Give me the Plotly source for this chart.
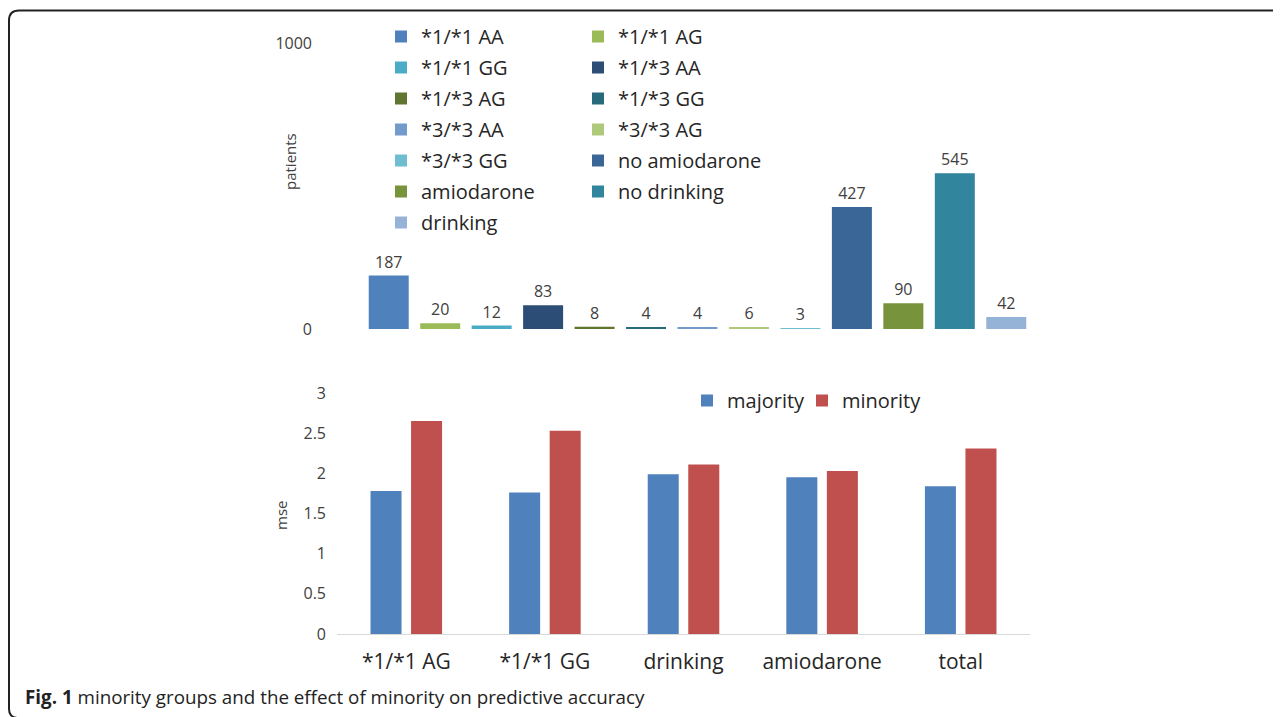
import plotly.graph_objects as go

# ---- data ----
top_categories = ["*1/*1 AA", "*1/*1 AG", "*1/*1 GG", "*1/*3 AA", "*1/*3 AG", "*1/*3 GG",
                  "*3/*3 AA", "*3/*3 AG", "*3/*3 GG", "no amiodarone", "amiodarone",
                  "no drinking", "drinking"]
top_values = [187, 20, 12, 83, 8, 4, 4, 6, 3, 427, 90, 545, 42]
top_colors = ["#4F81BD", "#9BBB59", "#4BACC6", "#2C4D75", "#5F7530", "#276A7C", "#729ACA",
              "#AFC97A", "#6FBDD1", "#3A6597", "#77933C", "#31859C", "#95B3D7"]

mse_categories = ["*1/*1 AG", "*1/*1 GG", "drinking", "amiodarone", "total"]
majority_mse = [1.78, 1.76, 1.99, 1.95, 1.84]
minority_mse = [2.65, 2.53, 2.11, 2.03, 2.31]

top_yticks = [0, 1000]
bottom_yticks = [0, 0.5, 1, 1.5, 2, 2.5, 3]

W, H = 1281, 717
OX, OY = 8, 8   # page body offset
FONT = "Open Sans"
TXT = "#262626"

def px(x):
    return (x - OX) / W

def py(y):
    return 1 - (y - OY) / H

fig = go.Figure()

for i, (cat, val, col) in enumerate(zip(top_categories, top_values, top_colors)):
    fig.add_trace(go.Bar(
        x=[cat], y=[val], name=cat, marker=dict(color=col, line=dict(width=0)),
        width=[0.777], offset=-0.3885,
        text=[str(val)], textposition="outside", cliponaxis=False,
        textfont=dict(size=16, color="#404040", family=FONT),
        legend="legend" if i % 2 == 0 else "legend2", legendgroup=cat,
        xaxis="x", yaxis="y", showlegend=True,
    ))

fig.add_trace(go.Bar(x=mse_categories, y=majority_mse, name="majority",
                     marker=dict(color="#4F81BD", line=dict(width=0)),
                     xaxis="x2", yaxis="y2", legend="legend3", legendwidth=70))
fig.add_trace(go.Bar(x=mse_categories, y=minority_mse, name="minority",
                     marker=dict(color="#C0504D", line=dict(width=0)),
                     xaxis="x2", yaxis="y2", legend="legend3", legendwidth=100))

leg_common = dict(xanchor="left", yanchor="top", bgcolor="rgba(0,0,0,0)",
                  font=dict(size=20, family=FONT, color=TXT), tracegroupgap=2,
                  orientation="v")

fig.update_layout(
    width=W, height=H, autosize=False,
    margin=dict(l=0, r=0, t=0, b=0, pad=0, autoexpand=False),
    paper_bgcolor="white", plot_bgcolor="white",
    font=dict(family=FONT, color=TXT),
    barmode="group", bargap=0.415, bargroupgap=0.235,
    xaxis=dict(domain=[px(363), px(1032)], type="category", categoryorder="array",
               categoryarray=top_categories, range=[-0.5, 12.5],
               showticklabels=False, showgrid=False, zeroline=False, showline=False,
               anchor="y", fixedrange=True),
    yaxis=dict(domain=[py(329), py(43)], range=[0, 1000], tickvals=top_yticks,
               showgrid=False, zeroline=False, showline=False, ticks="",
               ticklabelstandoff=50, tickfont=dict(size=16, color="#404040", family=FONT),
               anchor="x"),
    xaxis2=dict(domain=[px(337), px(1030)], type="category", categoryorder="array",
                categoryarray=mse_categories, range=[-0.5, 4.5],
                showgrid=False, zeroline=False, showline=True, linecolor="#D9D9D9",
                linewidth=1, ticks="", ticklabelstandoff=9,
                tickfont=dict(size=21, color=TXT, family=FONT), anchor="y2"),
    yaxis2=dict(domain=[py(634), py(393)], range=[0, 3], tickvals=bottom_yticks,
                showgrid=False, zeroline=False, showline=False, ticks="",
                ticklabelstandoff=10, tickfont=dict(size=16, color="#404040", family=FONT),
                anchor="x2"),
    legend=dict(x=px(381), y=py(17), **leg_common),
    legend2=dict(x=px(578), y=py(17), **leg_common),
    legend3=dict(x=px(687), y=py(381), xanchor="left", yanchor="top",
                 orientation="h", bgcolor="rgba(0,0,0,0)",
                 font=dict(size=20, family=FONT, color=TXT)),
    showlegend=True,
)

# axis titles
fig.add_annotation(text="patients", x=px(290), y=py(162), xref="paper", yref="paper",
                   xanchor="center", yanchor="middle",
                   textangle=-90, showarrow=False, font=dict(size=15, color="#404040", family=FONT))
fig.add_annotation(text="mse", x=px(281), y=py(516), xref="paper", yref="paper",
                   xanchor="center", yanchor="middle",
                   textangle=-90, showarrow=False, font=dict(size=15, color="#404040", family=FONT))

# caption
fig.add_annotation(text="<b>Fig. 1</b> minority groups and the effect of minority on predictive accuracy",
                   x=px(23), y=py(697), xref="paper", yref="paper", xanchor="left", yanchor="middle",
                   showarrow=False, font=dict(size=18.8, color="#222222", family=FONT))

# frame
fx0, fy0 = px(9), py(10.5)
fr = 10
frame = (f"M {px(1300)},{fy0} L {px(9 + fr)},{fy0} Q {fx0},{fy0} {fx0},{py(10.5 + fr)} "
         f"L {fx0},{py(709)} Q {fx0},{py(717)} {px(17)},{py(718)}")
fig.add_shape(type="path", path=frame, xref="paper", yref="paper",
              line=dict(color="#222222", width=2))

fig.write_html("out.html")
